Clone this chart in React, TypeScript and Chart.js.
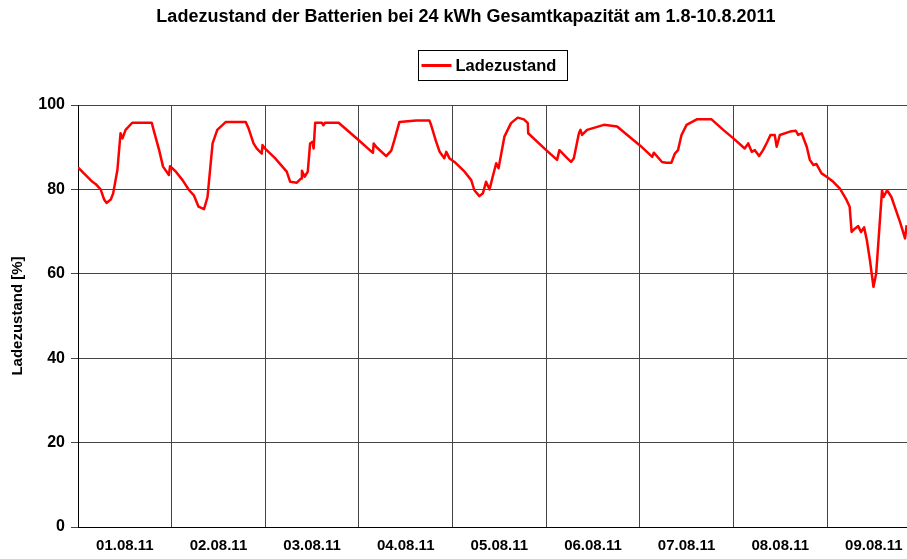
import React, { useEffect, useRef } from 'react';
import { Chart, registerables } from 'chart.js';

Chart.register(...registerables);

const TITLE = 'Ladezustand der Batterien bei 24 kWh Gesamtkapazität am 1.8-10.8.2011';
const SERIES_LABEL = 'Ladezustand';
const Y_TITLE = 'Ladezustand [%]';

const DAY_LABELS = ['01.08.11', '02.08.11', '03.08.11', '04.08.11', '05.08.11', '06.08.11', '07.08.11', '08.08.11', '09.08.11'];
const DAY_LABEL_HOURS = [12, 36, 60, 84, 108, 132, 156, 180, 204];
const X_MAX_HOURS = 212.5;
const Y_MIN = 0;
const Y_MAX = 100;
const Y_STEP = 20;

// hours since 01.08.11 00:00
const HOURS = [
  0, 3.7, 4.5, 5.8, 6.7, 7.3, 8.4, 9.0, 10.1, 10.9, 11.4, 12.2, 13.9, 18.9, 19.5, 20.8, 21.8, 23.3, 23.6,
  25.1, 26.8, 28.5, 29.7, 30.9, 32.3, 33.2, 34.5, 35.7, 37.9, 43.0, 43.7, 45.0, 45.8, 47.1, 47.3, 47.9,
  50.5, 53.5, 54.4, 56.1, 57.2, 57.4, 58.1, 58.9, 59.5, 60.1, 60.4, 60.8, 62.5, 62.9, 63.3, 66.8, 71.9,
  75.3, 75.6, 75.8, 76.4, 79.0, 80.3, 81.1, 82.4, 86.7, 90.1, 90.5, 91.8, 92.7, 93.9, 94.4, 95.2,
  96.5, 99.1, 100.8, 101.6, 102.9, 103.8, 104.6, 105.5, 106.3, 107.2, 107.8, 109.3, 111.0, 112.7, 114.3, 115.3, 115.4,
  119.8, 122.8, 123.4, 125.4, 126.4, 127.1, 128.4, 128.8, 129.2, 130.5, 134.8, 138.2, 140.8, 144.2, 147.2, 147.6, 149.7,
  150.8, 152.1, 153.0, 153.8, 154.7, 156.0, 158.6, 162.4, 165.4, 168.0, 170.9, 171.8, 172.7, 173.5, 174.6, 175.6,
  176.7, 177.5, 178.6, 179.1, 179.9, 182.5, 184.0, 184.6, 185.5, 186.8, 187.6, 188.5, 189.3, 190.6, 191.9,
  193.6, 195.3, 197.0, 197.8, 198.3, 199.1, 200.0, 200.7, 201.5, 202.2, 203.0, 203.9, 204.6, 206.1, 206.5,
  207.4, 208.5, 210.7, 212.0, 212.4,
];

// state of charge in %
const SOC = [
  85.2, 81.8, 81.3, 80.0, 77.6, 76.8, 77.6, 79.0, 84.6, 93.3, 92.1, 94.1, 95.8, 95.8, 93.7, 89.3, 85.4, 83.4, 85.5,
  84.2, 82.2, 79.8, 78.6, 75.9, 75.3, 78.2, 90.9, 94.1, 96.0, 96.0, 94.5, 90.9, 89.7, 88.5, 90.5, 89.7,
  87.4, 84.2, 81.8, 81.6, 82.6, 84.4, 83.0, 84.2, 90.9, 91.3, 89.7, 95.8, 95.8, 95.2, 95.8, 95.8, 91.7,
  88.9, 88.7, 90.9, 90.1, 87.9, 89.2, 91.7, 96.0, 96.3, 96.3, 95.3, 91.3, 88.9, 87.4, 88.9, 87.4,
  86.5, 84.2, 82.2, 79.8, 78.4, 79.1, 81.8, 80.0, 83.0, 86.2, 85.0, 92.5, 95.7, 97.0, 96.6, 95.7, 93.3,
  89.5, 87.0, 89.3, 87.4, 86.5, 87.4, 93.3, 94.1, 92.9, 94.1, 95.3, 94.9, 92.9, 90.3, 87.7, 88.7, 86.5,
  86.3, 86.3, 88.5, 89.3, 92.9, 95.3, 96.6, 96.6, 94.1, 92.1, 89.7, 90.9, 88.9, 89.3, 87.9, 89.3,
  91.3, 92.9, 92.9, 90.1, 92.9, 93.7, 93.9, 92.9, 93.3, 90.1, 87.0, 85.8, 86.0, 83.8, 83.0,
  81.8, 80.2, 77.5, 75.9, 69.9, 70.7, 71.3, 69.9, 71.0, 68.0, 63.2, 56.9, 60.1, 79.8, 78.2,
  79.8, 78.2, 72.3, 68.4, 71.5,
];

const FONT = '"Liberation Sans", Arial, Helvetica, sans-serif';

const headerPlugin = {
  id: 'headerPlugin',
  afterDraw(chart: any) {
    const ctx = chart.ctx as CanvasRenderingContext2D;
    const area = chart.chartArea;
    ctx.save();
    // title
    ctx.fillStyle = '#000';
    ctx.font = `bold 18px ${FONT}`;
    ctx.textAlign = 'center';
    ctx.textBaseline = 'middle';
    ctx.fillText(TITLE, 466, 17);

    // legend box
    const ds = chart.data.datasets[0];
    ctx.font = `bold 16.5px ${FONT}`;
    const tw = ctx.measureText(ds.label).width;
    const lineW = 30;
    const boxW = 4 + lineW + 4 + tw + 10;
    const cx = (area.left + area.right) / 2;
    const bx = Math.round(cx - boxW / 2) + 0.5;
    const by = 50.5;
    const bh = 30;
    ctx.strokeStyle = '#000';
    ctx.lineWidth = 1;
    ctx.strokeRect(bx, by, Math.round(boxW), bh);
    ctx.strokeStyle = ds.borderColor;
    ctx.lineWidth = 3;
    ctx.beginPath();
    ctx.moveTo(bx + 3, by + bh / 2);
    ctx.lineTo(bx + 3 + lineW, by + bh / 2);
    ctx.stroke();
    ctx.textAlign = 'left';
    ctx.fillStyle = '#000';
    ctx.fillText(ds.label, bx + 3 + lineW + 4, by + bh / 2 + 1);
    ctx.restore();
  },
};

export default function App() {
  const canvasRef = useRef<HTMLCanvasElement | null>(null);

  useEffect(() => {
    document.body.style.margin = '0';
    const canvas = canvasRef.current;
    if (!canvas) return;
    const points = HOURS.map((h, i) => ({ x: h, y: SOC[i] }));
    const chart = new Chart(canvas, {
      type: 'line',
      data: {
        datasets: [
          {
            label: SERIES_LABEL,
            data: points,
            borderColor: '#FF0000',
            backgroundColor: '#FF0000',
            borderWidth: 2.5,
            pointRadius: 0,
            tension: 0,
            borderJoinStyle: 'round',
            fill: false,
          },
        ],
      },
      options: {
        responsive: false,
        animation: false,
        devicePixelRatio: 1,
        layout: { padding: { top: 105, left: 0, right: 0, bottom: 0 } },
        plugins: {
          legend: { display: false },
          title: { display: false },
          tooltip: { enabled: false },
        },
        scales: {
          x: {
            type: 'linear',
            min: 0,
            max: X_MAX_HOURS,
            afterBuildTicks: (scale: any) => {
              scale.ticks = DAY_LABEL_HOURS.map((v) => ({ value: v }));
            },
            afterFit: (scale: any) => {
              scale.height = 32;
              scale.paddingLeft = 0;
              scale.paddingRight = 0;
            },
            grid: {
              display: true,
              offset: true,
              drawTicks: false,
              color: '#444',
              lineWidth: 1,
            },
            border: { display: true, color: '#000', width: 1 },
            ticks: {
              autoSkip: false,
              maxRotation: 0,
              minRotation: 0,
              padding: 10,
              color: '#000',
              font: { family: FONT, size: 15, weight: 'bold' },
              callback: (_v: any, i: number) => DAY_LABELS[i],
            },
          },
          y: {
            type: 'linear',
            min: Y_MIN,
            max: Y_MAX,
            afterFit: (scale: any) => {
              scale.width = 78;
            },
            grid: {
              display: true,
              drawTicks: true,
              tickLength: 7,
              color: '#444',
              lineWidth: 1,
            },
            border: { display: true, color: '#000', width: 1 },
            ticks: {
              stepSize: Y_STEP,
              padding: 6,
              color: '#000',
              font: { family: FONT, size: 16, weight: 'bold' },
            },
            title: {
              display: true,
              text: Y_TITLE,
              color: '#000',
              font: { family: FONT, size: 15, weight: 'bold' },
              padding: { top: 9, bottom: 0 },
            },
          },
        },
      },
      plugins: [headerPlugin],
    });
    return () => chart.destroy();
  }, []);

  return (
    <div style={{ width: 907, height: 559, background: '#fff' }}>
      <canvas ref={canvasRef} width={907} height={559} style={{ display: 'block' }} />
    </div>
  );
}
